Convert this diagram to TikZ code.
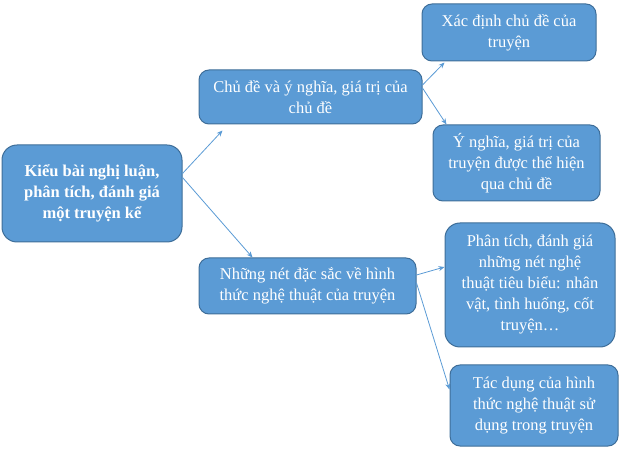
\documentclass[tikz,border=0pt]{standalone}
\usepackage{fontspec}
\setmainfont{Liberation Serif}
\usetikzlibrary{arrows.meta}
\definecolor{boxfill}{HTML}{5B9BD5}
\definecolor{boxline}{HTML}{3E6E99}
\definecolor{arrowc}{HTML}{5B9BD5}
\tikzset{
  box/.style={draw=boxline, line width=1pt, fill=boxfill, rounded corners=10pt, text=white, align=center, inner sep=0pt,
    font=\fontsize{16.5pt}{21pt}\selectfont},
  conn/.style={draw=arrowc, line width=0.8pt, -{Stealth[length=6pt,width=5pt]}}
}
\begin{document}
\begin{tikzpicture}[x=1pt,y=-1pt]
\useasboundingbox (0,0) rectangle (624,454);
\node[box, rounded corners=15pt, minimum width=180pt, minimum height=97pt, font=\bfseries\fontsize{16.5pt}{21pt}\selectfont] (root) at (92,193.5) {Kiểu bài nghị luận,\\phân tích, đánh giá\\một truyện kể};
\node[box, minimum width=223pt, minimum height=54pt] (chu) at (310.5,97) {Chủ đề và ý nghĩa, giá trị của\\chủ đề};
\node[box, minimum width=174pt, minimum height=57pt] (xac) at (509,32.5) {Xác định chủ đề của\\truyện};
\node[box, minimum width=167pt, minimum height=76pt] (ynghia) at (516.5,163) {Ý nghĩa, giá trị của\\truyện được thể hiện\\qua chủ đề};
\node[box, minimum width=217pt, minimum height=56pt] (nhung) at (307.5,286) {Những nét đặc sắc về hình\\thức nghệ thuật của truyện};
\node[box, rounded corners=15pt, minimum width=170pt, minimum height=124pt] (phan) at (530,285) {Phân tích, đánh giá\\những nét nghệ\\thuật tiêu biểu: nhân\\vật, tình huống, cốt\\truyện…};
\node[box, minimum width=168pt, minimum height=81pt] (tac) at (534,405.5) {Tác dụng của hình\\thức nghệ thuật sử\\dụng trong truyện};
\draw[conn] ([yshift=20pt]root.east) -- ([xshift=24pt,yshift=-6pt]chu.south west);
\draw[conn] ([yshift=16pt]root.east) -- ([xshift=54pt]nhung.north west);
\draw[conn] ([yshift=12pt]chu.east) -- ([xshift=23pt,yshift=-1pt]xac.south west);
\draw[conn] ([yshift=9pt]chu.east) -- ([xshift=14pt]ynghia.north west);
\draw[conn] ([yshift=11pt]nhung.east) -- ([yshift=18pt]phan.west);
\draw[conn] ([yshift=3pt]nhung.east) -- ([yshift=16pt]tac.west);
\end{tikzpicture}
\end{document}
